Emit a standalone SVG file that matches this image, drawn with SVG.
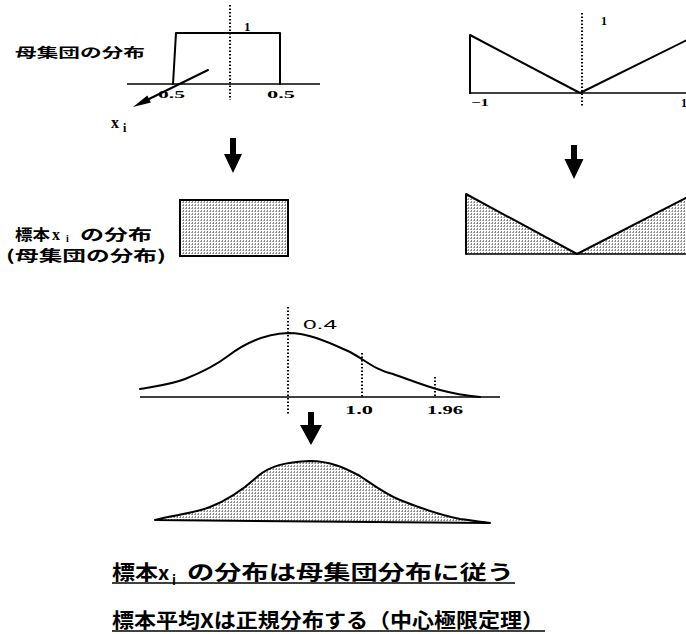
<svg xmlns="http://www.w3.org/2000/svg" width="686" height="634" viewBox="0 0 686 634">
<defs>
<pattern id="stip" width="3" height="3" patternUnits="userSpaceOnUse">
<rect width="3" height="3" fill="#fff"/>
<rect width="1" height="2" fill="#8a8a8a"/>
<rect x="2" y="1" width="1" height="1" fill="#aaa"/>
</pattern>
<style>
.ln{fill:none;stroke:#000;stroke-width:2;stroke-linejoin:round;stroke-linecap:round}
.ax{fill:none;stroke:#000;stroke-width:1.5}
.dot{fill:none;stroke:#000;stroke-width:2;stroke-dasharray:1.5 2}
.jp{font-family:"Noto Sans CJK JP",sans-serif;font-weight:bold;fill:#000}
.num{font-family:"Liberation Serif",serif;font-weight:bold;fill:#000}
.sans{font-family:"Liberation Sans",sans-serif;fill:#000}
.arr{fill:#000}
</style>
</defs>
<rect width="686" height="634" fill="#fff"/>

<g id="population-uniform">
<text class="jp" x="15" y="57" font-size="13" textLength="130" lengthAdjust="spacingAndGlyphs">母集団の分布</text>
<line class="ax" x1="127" y1="84" x2="320" y2="84"/>
<path class="ln" d="M173,84 L176,33 L280,33 L280,84"/>
<line class="dot" x1="230" y1="5" x2="230" y2="100"/>
<text class="num" x="244" y="31" font-size="13">1</text>
<text class="num" x="158" y="98" font-size="11" textLength="27" lengthAdjust="spacingAndGlyphs">0.5</text>
<text class="num" x="267" y="98" font-size="11" textLength="28" lengthAdjust="spacingAndGlyphs">0.5</text>
<line class="ln" x1="208" y1="70" x2="149" y2="99" stroke-width="1.6"/>
<polygon class="arr" points="133,107 147.3,95.4 150.9,102.6"/>
<text class="num" x="111" y="128" font-size="16">x</text>
<text class="num" x="123" y="132" font-size="12">i</text>
</g>

<g id="population-v">
<line class="ax" x1="469" y1="93" x2="686" y2="93"/>
<path class="ln" d="M470,93 L470,35 L580,93 L687,40"/>
<line class="dot" x1="582" y1="13" x2="582" y2="107"/>
<text class="num" x="601" y="25" font-size="12">1</text>
<text class="num" x="471" y="106" font-size="11" textLength="18" lengthAdjust="spacingAndGlyphs">−1</text>
<text class="num" x="681" y="107" font-size="12">1</text>
</g>

<g id="connectors">
<path class="arr" d="M230,138 L236,138 L236,154 L242,154 L233,173 L224,154 L230,154 Z"/>
<path class="arr" d="M571,145 L577,145 L577,159 L583.5,159 L574,179 L564.5,159 L571,159 Z"/>
<path class="arr" d="M308,412 L314,412 L314,425 L322,425 L311,445 L300,425 L308,425 Z"/>
</g>

<g id="sample-uniform">
<text class="jp" x="15" y="240" font-size="15" textLength="35" lengthAdjust="spacingAndGlyphs">標本</text>
<text class="num" x="52" y="240" font-size="16">x</text>
<text class="num" x="66" y="242" font-size="10">i</text>
<text class="jp" x="80" y="240" font-size="15" textLength="72" lengthAdjust="spacingAndGlyphs">の分布</text>
<text class="jp" x="6" y="261" font-size="15" textLength="160" lengthAdjust="spacingAndGlyphs">(母集団の分布)</text>
<rect x="180" y="200" width="108" height="56" fill="url(#stip)" stroke="#000" stroke-width="2"/>
</g>

<g id="sample-v">
<polygon points="466,194 577,254 686,198 686,254 466,254" fill="url(#stip)"/>
<line class="ax" x1="466" y1="254" x2="686" y2="254"/>
<path class="ln" d="M466,254 L466,194 L577,254 L686,198"/>
</g>

<g id="normal-curve">
<line class="ax" x1="140" y1="397" x2="500" y2="397"/>
<path class="ln" stroke-width="1.6" d="M140,389 C150,387 170,385 185,379 C200,373 215,366 228,356 C245,343 265,334 288,333 C310,333 330,343 350,352 C365,360 375,370 393,374 C410,380 425,386 440,390 C455,394 470,396 480,397"/>
<line class="dot" x1="288" y1="307" x2="288" y2="414"/>
<line class="dot" x1="362" y1="353" x2="362" y2="397"/>
<line class="dot" x1="435" y1="377" x2="435" y2="397"/>
<text class="sans" x="303" y="329" font-size="12" textLength="34" lengthAdjust="spacingAndGlyphs">0.4</text>
<text class="num" x="345" y="414" font-size="13" font-weight="normal" textLength="28" lengthAdjust="spacingAndGlyphs">1.0</text>
<text class="num" x="427" y="414" font-size="13" font-weight="normal" textLength="36" lengthAdjust="spacingAndGlyphs">1.96</text>
</g>

<g id="sample-mean-normal">
<path fill="url(#stip)" stroke="#000" stroke-width="2" stroke-linejoin="round" d="M155,520 C175,515 195,513 210,507 C230,499 245,488 258,476 C270,466 285,462 310,461 C330,461 345,468 360,476 C372,484 385,494 400,500 C420,508 440,515 460,519 C475,521 485,522 490,523 Z"/>
</g>

<g id="caption-1">
<text class="jp" x="112" y="580" font-size="20" textLength="46" lengthAdjust="spacingAndGlyphs">標本</text>
<text class="jp" x="158" y="580" font-size="20">x</text>
<text class="jp" x="172" y="585" font-size="13">i</text>
<text class="jp" x="187" y="580" font-size="20" textLength="327" lengthAdjust="spacingAndGlyphs">の分布は母集団分布に従う</text>
<line x1="112" y1="583" x2="515" y2="583" stroke="#000" stroke-width="1.5"/>
</g>

<g id="caption-2">
<text class="jp" x="112" y="628" font-size="20" textLength="432" lengthAdjust="spacingAndGlyphs">標本平均Xは正規分布する（中心極限定理）</text>
<line x1="112" y1="631" x2="545" y2="631" stroke="#000" stroke-width="1.5"/>
</g>
</svg>
